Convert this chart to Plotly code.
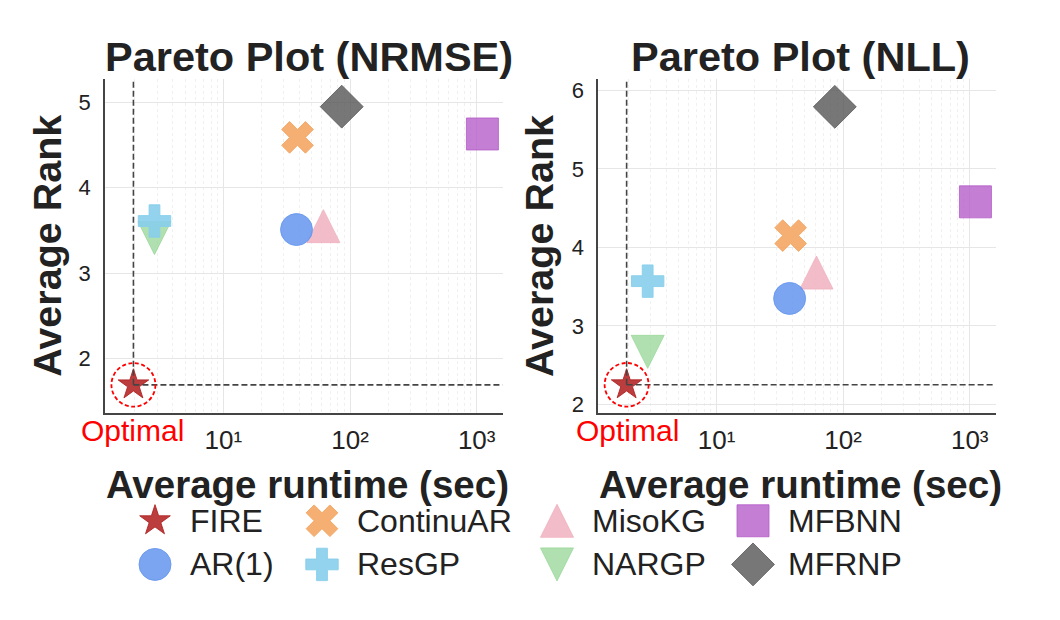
import plotly.graph_objects as go

# values
methods = ["FIRE", "AR(1)", "ContinuAR", "ResGP", "MisoKG", "NARGP", "MFBNN", "MFRNP"]
runtime_sec = [1.95, 37.8, 38.5, 2.86, 61.6, 2.86, 1110, 86]
rank_nrmse = [1.69, 3.51, 4.59, 3.61, 3.55, 3.41, 4.63, 4.95]
rank_nll = [2.25, 3.35, 4.15, 3.57, 3.68, 2.67, 4.58, 5.79]

xtick_vals = [10, 100, 1000]
xtick_text = ["10\u00b9", "10\u00b2", "10\u00b3"]
ytick_nrmse = [2, 3, 4, 5]
ytick_nll = [2, 3, 4, 5, 6]

W, H = 1060, 620
FONT = "Liberation Sans, Arial, sans-serif"
INK = "#222222"

# marker style per method
style = {
    "FIRE": dict(symbol="star", size=23, color="rgba(178,34,34,0.88)"),
    "AR(1)": dict(symbol="circle", size=32, color="rgba(100,149,237,0.85)"),
    "ContinuAR": dict(symbol="x", size=28, color="rgba(244,164,96,0.88)"),
    "ResGP": dict(symbol="cross", size=27, color="rgba(135,206,235,0.9)"),
    "MisoKG": dict(symbol="arrow-down", size=33, angle=180, color="rgba(240,178,192,0.85)"),
    "NARGP": dict(symbol="arrow-down", size=33, angle=0, color="rgba(150,214,150,0.75)"),
    "MFBNN": dict(symbol="square", size=32, color="rgba(180,90,200,0.78)"),
    "MFRNP": dict(symbol="diamond", size=33, color="rgba(85,85,85,0.8)"),
}
# drawing order so overlaps look like the reference
draw_order = ["FIRE", "MisoKG", "AR(1)", "ContinuAR", "NARGP", "ResGP", "MFBNN", "MFRNP"]


def marker_for(name):
    s = style[name]
    m = dict(symbol=s["symbol"], size=s["size"], color=s["color"],
             line=dict(color=s["color"], width=1))
    if s["symbol"].startswith("arrow"):
        # arrow glyphs are equal width/height triangles; shift them to sit centred
        m["angle"] = s["angle"]
        m["standoff"] = s["size"] / 2
    return m


fig = go.Figure()

x_range = [0.066, 3.205]
x_domains = {"x": [0.0991, 0.4742], "x2": [0.5644, 0.9393]}
y_domain = [0.3306, 0.8726]
y_ranges = {"y": [1.364, 5.27], "y2": [1.895, 6.14]}

panels = [("x", "y", rank_nrmse), ("x2", "y2", rank_nll)]
for xa, ya, ranks in panels:
    for name in draw_order:
        i = methods.index(name)
        fig.add_trace(go.Scatter(
            x=[runtime_sec[i]], y=[ranks[i]], mode="markers",
            marker=marker_for(name), xaxis=xa, yaxis=ya,
            showlegend=False, hoverinfo="text", text=name,
        ))

# legend drawn on a hidden pixel axis (two rows, four columns)
legend_col_px = [155, 322, 557, 753]
legend_row_px = [524, 568]
for i, name in enumerate(methods):
    cx = legend_col_px[i // 2]
    cy = legend_row_px[i % 2]
    fig.add_trace(go.Scatter(
        x=[cx], y=[cy], mode="markers", marker=marker_for(name),
        xaxis="x3", yaxis="y3", showlegend=False, hoverinfo="skip",
    ))
    fig.add_annotation(
        x=(cx + 33) / W, y=1 - cy / H, xref="paper", yref="paper",
        text=name, showarrow=False, xanchor="left", yanchor="middle",
        font=dict(family=FONT, size=32, color=INK),
    )

axis_common = dict(
    showline=True, linecolor="#444444", linewidth=1.6, mirror=False,
    showgrid=True, gridcolor="#e6e6e6", gridwidth=1.2,
    zeroline=False, ticks="",
)
xtick_font = dict(family=FONT, size=26, color=INK)
ytick_font = dict(family=FONT, size=22, color=INK)
minor_grid = dict(showgrid=True, dtick="D1", gridcolor="#f0f0f0",
                  griddash="dot", gridwidth=1, ticks="")

fig.update_layout(
    xaxis=dict(type="log", range=x_range, domain=x_domains["x"], anchor="y",
               tickmode="array", tickvals=xtick_vals, ticktext=xtick_text,
               tickfont=xtick_font, ticklabelstandoff=3, minor=minor_grid,
               **axis_common),
    yaxis=dict(range=y_ranges["y"], domain=y_domain, anchor="x",
               tickmode="array", tickvals=ytick_nrmse, tickfont=ytick_font,
               ticklabelstandoff=8, **axis_common),
    xaxis2=dict(type="log", range=x_range, domain=x_domains["x2"], anchor="y2",
                tickmode="array", tickvals=xtick_vals, ticktext=xtick_text,
                tickfont=xtick_font, ticklabelstandoff=3, minor=minor_grid,
                **axis_common),
    yaxis2=dict(range=y_ranges["y2"], domain=y_domain, anchor="x2",
                tickmode="array", tickvals=ytick_nll, tickfont=ytick_font,
                ticklabelstandoff=8, **axis_common),
    xaxis3=dict(range=[0, W], domain=[0, 1], anchor="y3", visible=False, fixedrange=True),
    yaxis3=dict(range=[H, 0], domain=[0, 1], anchor="x3", visible=False, fixedrange=True),
    width=W, height=H,
    margin=dict(l=0, r=0, t=0, b=0),
    paper_bgcolor="white", plot_bgcolor="rgba(0,0,0,0)",
    showlegend=False,
    font=dict(family=FONT, color=INK),
)

# optimal point guides: dashed lines from FIRE to the axes edges and a dashed ring
fire_x = runtime_sec[methods.index("FIRE")]
ring_px = 22
for xa, ya, ranks in panels:
    fire_y = ranks[methods.index("FIRE")]
    top = y_ranges[ya][1]
    fig.add_shape(type="line", xref=xa, yref=ya, x0=fire_x, x1=fire_x, y0=fire_y, y1=top,
                  line=dict(color="#444444", width=1.6, dash="6px,3px"))
    fig.add_shape(type="line", xref=xa, yref=ya, x0=fire_x, x1=10 ** x_range[1],
                  y0=fire_y, y1=fire_y,
                  line=dict(color="#444444", width=1.6, dash="6px,3px"))
    # ring radius in pixels converted to axis units
    px_per_decade = (x_domains[xa][1] - x_domains[xa][0]) * W / (x_range[1] - x_range[0])
    px_per_rank = (y_domain[1] - y_domain[0]) * H / (y_ranges[ya][1] - y_ranges[ya][0])
    fx = 10 ** (ring_px / px_per_decade)
    dy = ring_px / px_per_rank
    fig.add_shape(type="circle", xref=xa, yref=ya,
                  x0=fire_x / fx, x1=fire_x * fx, y0=fire_y - dy, y1=fire_y + dy,
                  line=dict(color="red", width=1.8, dash="4px,2.5px"))


def px_text(x, y, text, size, bold=False, color=INK, angle=0):
    fig.add_annotation(
        x=x / W, y=1 - y / H, xref="paper", yref="paper",
        text=f"<b>{text}</b>" if bold else text, showarrow=False,
        xanchor="center", yanchor="middle", textangle=angle,
        font=dict(family=FONT, size=size, color=color),
    )


px_text(309, 56, "Pareto Plot (NRMSE)", 41.5, bold=True)
px_text(800, 56, "Pareto Plot (NLL)", 41.5, bold=True)
px_text(46.7, 247, "Average Rank", 39.5, bold=True, angle=-90)
px_text(539, 247, "Average Rank", 39.5, bold=True, angle=-90)
px_text(307, 487, "Average runtime (sec)", 38.5, bold=True)
px_text(800, 487, "Average runtime (sec)", 38.5, bold=True)
px_text(132.5, 433, "Optimal", 30, color="red")
px_text(627, 433, "Optimal", 30, color="red")

fig.write_html("out.html", config={"displayModeBar": False},
               post_script="document.body.style.margin='0px';")
